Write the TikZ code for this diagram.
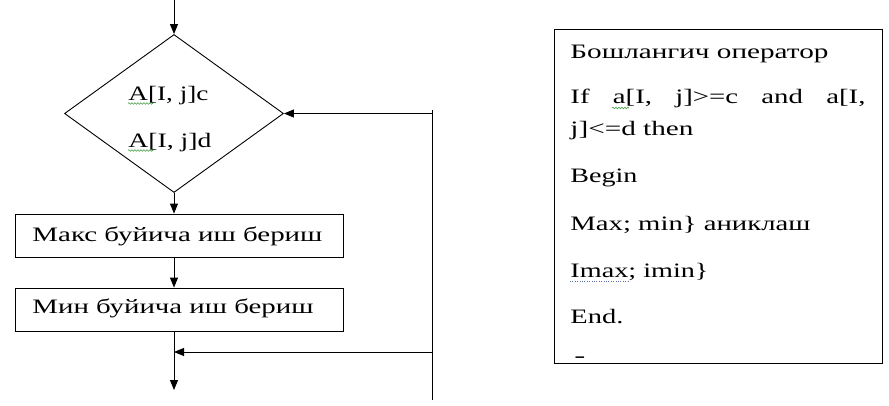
\documentclass[tikz,border=0pt]{standalone}
\usepackage{fontspec}
\usepackage{graphicx}
\setmainfont{Liberation Serif}
\usetikzlibrary{shapes.geometric,arrows.meta,decorations.pathmorphing}
% set a line of text to a given width, keeping its height
\newcommand\fitw[2]{\resizebox{#1}{\height}{#2}}
\definecolor{spellgreen}{RGB}{70,160,70}
\definecolor{spellblue}{RGB}{90,110,170}
\begin{document}
\begin{tikzpicture}[x=1pt,y=-1pt,
  line width=0.9pt,
  flow/.style={-{Triangle[length=10pt,width=8pt]}},
  txt/.style={font=\fontsize{20.5}{24}\selectfont, inner sep=0pt, anchor=base west},
  box/.style={draw, rectangle, minimum width=328pt, minimum height=43pt, inner sep=0pt},
  wavy/.style={spellgreen, line width=0.6pt, decorate,
    decoration={snake, amplitude=0.8pt, segment length=3pt}},
  dots/.style={spellblue, line width=0.8pt, dash pattern=on 0.8pt off 1.6pt}]
\useasboundingbox (0,0) rectangle (889,405);

% decision
\node[draw, diamond, minimum width=219pt, minimum height=158pt, inner sep=0pt] (dec) at (174,113.5) {};
\node[txt] (c1) at (128,100) {\fitw{80pt}{A[I, j]c}};
\node[txt] (c2) at (128,147) {\fitw{83pt}{A[I, j]d}};
\draw[wavy] (c1.base west) ++(0,3.5) -- ++(25,0);
\draw[wavy] (c2.base west) ++(0,3.5) -- ++(25,0);

% process boxes
\node[box] (b1) at (179,235.5) {};
\node[box] (b2) at (179,309.5) {};
\node[txt] (t1) at (32,241) {\fitw{290pt}{Макс буйича иш бериш}};
\node[txt] (t2) at (32,313) {\fitw{281pt}{Мин буйича иш бериш}};

% connectors
\coordinate (in) at (174,0);
\coordinate (out) at (174,390);
\coordinate (rtop) at (432,110);
\coordinate (rbot) at (432,400);
\coordinate (rmid) at (432,352);
\draw[flow] (in) -- (dec.north);
\draw[flow] (dec.south) -- (dec.south |- b1.north);
\draw[flow] (dec.south |- b1.south) -- (dec.south |- b2.north);
\draw[flow] (dec.south |- b2.south) -- (out);
\draw (rtop) -- (rbot);
\draw[flow] (rtop |- dec.east) -- (dec.east);
\draw[flow] (rmid) -- (rmid -| out);

% pseudocode panel
\node[draw, rectangle, minimum width=328pt, minimum height=334pt, inner sep=0pt] (code) at (718,196) {};
\node[txt] (p1) at (570,58) {\fitw{258pt}{Бошлангич оператор}};
\node[txt] (p2) at (570,103) {\fitw{295pt}{\makebox[210pt][s]{If\hfill a[I,\hfill j]>=c\hfill and\hfill a[I,}}};
\node[txt] (p3) at (570,135) {\fitw{123pt}{j]<=d then}};
\node[txt] (p4) at (570,182) {\fitw{67pt}{Begin}};
\node[txt] (p5) at (570,230) {\fitw{240pt}{Max; min\} аниклаш}};
\node[txt] (p6) at (570,277) {\fitw{138pt}{Imax; imin\}}};
\node[txt] (p7) at (570,323) {\fitw{53pt}{End.}};
\node[txt] (p8) at (574,362) {\fitw{11pt}{-}};
\draw[wavy] (612,108) -- ++(17,0);
\draw[dots] (p6.base west) ++(0,4) -- ++(60,0);
\end{tikzpicture}
\end{document}
